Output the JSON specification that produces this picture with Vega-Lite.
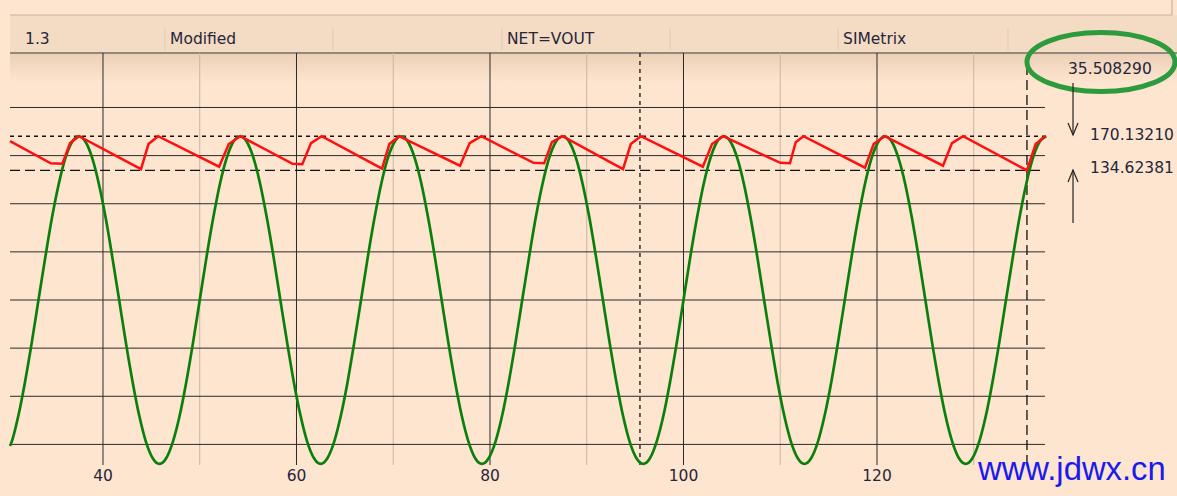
{
  "$schema": "https://vega.github.io/schema/vega-lite/v6.json",
  "width": 1177,
  "height": 496,
  "autosize": {"type": "none"},
  "padding": 0,
  "background": "#fee5cf",
  "config": {"view": {"stroke": null}, "axis": {"disable": true}},
  "data": {"values": [{}]},
  "datasets": {
    "green": [
      {"t":30.39,"v":-151.6},{"t":30.56,"v":-147.34},{"t":31.25,"v":-120.30},{"t":31.94,"v":-85.07},{"t":32.64,"v":-44.03},{"t":33.33,"v":0},{"t":34.03,"v":44.03},{"t":34.72,"v":85.07},{"t":35.42,"v":120.30},{"t":36.11,"v":147.34},{"t":36.81,"v":164.33},{"t":37.50,"v":170.13},{"t":38.19,"v":164.33},{"t":38.89,"v":147.34},{"t":39.58,"v":120.30},{"t":40.28,"v":85.07},{"t":40.97,"v":44.03},{"t":41.67,"v":0},{"t":42.36,"v":-44.03},{"t":43.06,"v":-85.07},{"t":43.75,"v":-120.30},{"t":44.44,"v":-147.34},{"t":45.14,"v":-164.33},{"t":45.83,"v":-170.13},
      {"t":46.53,"v":-164.33},{"t":47.22,"v":-147.34},{"t":47.92,"v":-120.30},{"t":48.61,"v":-85.07},{"t":49.31,"v":-44.03},{"t":50.00,"v":0},{"t":50.69,"v":44.03},{"t":51.39,"v":85.07},{"t":52.08,"v":120.30},{"t":52.78,"v":147.34},{"t":53.47,"v":164.33},{"t":54.17,"v":170.13},{"t":54.86,"v":164.33},{"t":55.56,"v":147.34},{"t":56.25,"v":120.30},{"t":56.94,"v":85.07},{"t":57.64,"v":44.03},{"t":58.33,"v":0},{"t":59.03,"v":-44.03},{"t":59.72,"v":-85.07},{"t":60.42,"v":-120.30},{"t":61.11,"v":-147.34},{"t":61.81,"v":-164.33},{"t":62.50,"v":-170.13},
      {"t":63.19,"v":-164.33},{"t":63.89,"v":-147.34},{"t":64.58,"v":-120.30},{"t":65.28,"v":-85.07},{"t":65.97,"v":-44.03},{"t":66.67,"v":0},{"t":67.36,"v":44.03},{"t":68.06,"v":85.07},{"t":68.75,"v":120.30},{"t":69.44,"v":147.34},{"t":70.14,"v":164.33},{"t":70.83,"v":170.13},{"t":71.53,"v":164.33},{"t":72.22,"v":147.34},{"t":72.92,"v":120.30},{"t":73.61,"v":85.07},{"t":74.31,"v":44.03},{"t":75.00,"v":0},{"t":75.69,"v":-44.03},{"t":76.39,"v":-85.07},{"t":77.08,"v":-120.30},{"t":77.78,"v":-147.34},{"t":78.47,"v":-164.33},{"t":79.17,"v":-170.13},
      {"t":79.86,"v":-164.33},{"t":80.56,"v":-147.34},{"t":81.25,"v":-120.30},{"t":81.94,"v":-85.07},{"t":82.64,"v":-44.03},{"t":83.33,"v":0},{"t":84.03,"v":44.03},{"t":84.72,"v":85.07},{"t":85.42,"v":120.30},{"t":86.11,"v":147.34},{"t":86.81,"v":164.33},{"t":87.50,"v":170.13},{"t":88.19,"v":164.33},{"t":88.89,"v":147.34},{"t":89.58,"v":120.30},{"t":90.28,"v":85.07},{"t":90.97,"v":44.03},{"t":91.67,"v":0},{"t":92.36,"v":-44.03},{"t":93.06,"v":-85.07},{"t":93.75,"v":-120.30},{"t":94.44,"v":-147.34},{"t":95.14,"v":-164.33},{"t":95.83,"v":-170.13},
      {"t":96.53,"v":-164.33},{"t":97.22,"v":-147.34},{"t":97.92,"v":-120.30},{"t":98.61,"v":-85.07},{"t":99.31,"v":-44.03},{"t":100.00,"v":0},{"t":100.69,"v":44.03},{"t":101.39,"v":85.07},{"t":102.08,"v":120.30},{"t":102.78,"v":147.34},{"t":103.47,"v":164.33},{"t":104.17,"v":170.13},{"t":104.86,"v":164.33},{"t":105.56,"v":147.34},{"t":106.25,"v":120.30},{"t":106.94,"v":85.07},{"t":107.64,"v":44.03},{"t":108.33,"v":0},{"t":109.03,"v":-44.03},{"t":109.72,"v":-85.07},{"t":110.42,"v":-120.30},{"t":111.11,"v":-147.34},{"t":111.81,"v":-164.33},{"t":112.50,"v":-170.13},
      {"t":113.19,"v":-164.33},{"t":113.89,"v":-147.34},{"t":114.58,"v":-120.30},{"t":115.28,"v":-85.07},{"t":115.97,"v":-44.03},{"t":116.67,"v":0},{"t":117.36,"v":44.03},{"t":118.06,"v":85.07},{"t":118.75,"v":120.30},{"t":119.44,"v":147.34},{"t":120.14,"v":164.33},{"t":120.83,"v":170.13},{"t":121.53,"v":164.33},{"t":122.22,"v":147.34},{"t":122.92,"v":120.30},{"t":123.61,"v":85.07},{"t":124.31,"v":44.03},{"t":125.00,"v":0},{"t":125.69,"v":-44.03},{"t":126.39,"v":-85.07},{"t":127.08,"v":-120.30},{"t":127.78,"v":-147.34},{"t":128.47,"v":-164.33},{"t":129.17,"v":-170.13},
      {"t":129.86,"v":-164.33},{"t":130.56,"v":-147.34},{"t":131.25,"v":-120.30},{"t":131.94,"v":-85.07},{"t":132.64,"v":-44.03},{"t":133.33,"v":0},{"t":134.03,"v":44.03},{"t":134.72,"v":85.07},{"t":135.42,"v":120.30},{"t":136.11,"v":147.34},{"t":136.81,"v":164.33},{"t":137.50,"v":170.13}
    ],
    "red": [
      {"t":30.39,"v":165},{"t":34.6,"v":142},{"t":35.8,"v":141.5},{"t":36.6,"v":163},{"t":37.52,"v":170.13},
      {"t":43.93,"v":136},{"t":44.7,"v":162},{"t":45.7,"v":170.13},
      {"t":52.0,"v":138.5},{"t":53.0,"v":162},{"t":54.2,"v":170.13},
      {"t":59.6,"v":141.5},{"t":60.6,"v":141},{"t":61.5,"v":163},{"t":62.6,"v":170.13},
      {"t":68.84,"v":136.5},{"t":69.6,"v":162},{"t":70.6,"v":170.13},
      {"t":76.9,"v":139.5},{"t":77.9,"v":163},{"t":79.1,"v":170.13},
      {"t":84.5,"v":142.5},{"t":85.6,"v":142},{"t":86.4,"v":164},{"t":87.5,"v":170.13},
      {"t":93.75,"v":136},{"t":94.55,"v":162},{"t":95.6,"v":170.13},
      {"t":102.0,"v":138.5},{"t":102.95,"v":162},{"t":104.1,"v":170.13},
      {"t":110.0,"v":142.5},{"t":111.0,"v":142},{"t":111.6,"v":164},{"t":112.4,"v":170.13},
      {"t":118.76,"v":137.5},{"t":119.65,"v":162},{"t":120.8,"v":170.13},
      {"t":126.82,"v":139.5},{"t":127.75,"v":163},{"t":128.9,"v":170.13},
      {"t":135.5,"v":134.62},{"t":136.4,"v":162},{"t":137.4,"v":170.13}
    ],
    "major": [{"t":40},{"t":60},{"t":80},{"t":100},{"t":120}],
    "minor": [{"t":50},{"t":70},{"t":90},{"t":110},{"t":130}],
    "hgrid": [{"v":-150},{"v":-100},{"v":-50},{"v":0},{"v":50},{"v":100},{"v":150},{"v":200}],
    "seps": [{"t":46.41},{"t":63.77},{"t":81.24},{"t":98.61},{"t":115.97},{"t":133.54}]
  },
  "layer": [
    {"mark": {"type": "rect", "color": "#f4dbc4"},
     "encoding": {
       "x": {"datum": 30.39, "type": "quantitative", "scale": {"domain": [29.354, 151.008], "nice": false, "zero": false}, "axis": null},
       "x2": {"datum": 151.0},
       "y": {"datum": 296.07, "type": "quantitative", "scale": {"domain": [-203.6, 311.65], "nice": false, "zero": false}, "axis": null},
       "y2": {"datum": 256.6}}},
    {"mark": {"type": "rect", "color": {"gradient": "linear", "x1": 0, "y1": 0, "x2": 0, "y2": 1, "stops": [{"offset": 0, "color": "#ebd0b7"}, {"offset": 1, "color": "#fee5cf"}]}},
     "encoding": {"x": {"datum": 30.39}, "x2": {"datum": 151.0}, "y": {"datum": 256.6}, "y2": {"datum": 226.0}}},
    {"mark": {"type": "rule", "color": "#c4b3a3", "strokeWidth": 1.2},
     "encoding": {"x": {"datum": 30.39}, "x2": {"datum": 150.49}, "y": {"datum": 296.07}}},
    {"mark": {"type": "rule", "color": "#c4b3a3", "strokeWidth": 1.2},
     "encoding": {"x": {"datum": 150.49}, "y": {"datum": 296.07}, "y2": {"datum": 311.65}}},
    {"data": {"name": "seps"},
     "mark": {"type": "rule", "color": "#e2c9b1", "strokeWidth": 1},
     "encoding": {"x": {"field": "t", "type": "quantitative"}, "y": {"datum": 282.6}, "y2": {"datum": 259.7}}},
    {"mark": {"type": "rule", "color": "#3a3a3a", "strokeWidth": 1},
     "encoding": {"x": {"datum": 30.39}, "x2": {"datum": 151.0}, "y": {"datum": 256.6}}},
    {"data": {"name": "minor"},
     "mark": {"type": "rule", "color": "#c9b5a2", "strokeWidth": 1},
     "encoding": {"x": {"field": "t", "type": "quantitative"}, "y": {"datum": 256.6}, "y2": {"datum": -171.4}}},
    {"data": {"name": "major"},
     "mark": {"type": "rule", "color": "#2a2a2a", "strokeWidth": 1},
     "encoding": {"x": {"field": "t", "type": "quantitative"}, "y": {"datum": 256.6}, "y2": {"datum": -171.4}}},
    {"data": {"name": "hgrid"},
     "mark": {"type": "rule", "color": "#2a2a2a", "strokeWidth": 1},
     "encoding": {"y": {"field": "v", "type": "quantitative"}, "x": {"datum": 30.39}, "x2": {"datum": 137.36}}},
    {"mark": {"type": "rule", "color": "#111111", "strokeWidth": 1.3, "strokeDash": [4, 4]},
     "encoding": {"y": {"datum": 170.13}, "x": {"datum": 30.39}, "x2": {"datum": 137.36}}},
    {"mark": {"type": "rule", "color": "#111111", "strokeWidth": 1.3, "strokeDash": [10, 5]},
     "encoding": {"y": {"datum": 134.62}, "x": {"datum": 30.39}, "x2": {"datum": 137.36}}},
    {"mark": {"type": "rule", "color": "#111111", "strokeWidth": 1.3, "strokeDash": [4, 4]},
     "encoding": {"x": {"datum": 95.5}, "y": {"datum": 256.6}, "y2": {"datum": -171.4}}},
    {"mark": {"type": "rule", "color": "#111111", "strokeWidth": 1.3, "strokeDash": [10, 5]},
     "encoding": {"x": {"datum": 135.5}, "y": {"datum": 244.1}, "y2": {"datum": -171.4}}},
    {"data": {"name": "green"},
     "mark": {"type": "line", "color": "#0a800a", "strokeWidth": 2.7, "interpolate": "monotone"},
     "encoding": {"x": {"field": "t", "type": "quantitative"}, "y": {"field": "v", "type": "quantitative"}, "order": {"field": "t"}}},
    {"data": {"name": "red"},
     "mark": {"type": "line", "color": "#ff1010", "strokeWidth": 2.5},
     "encoding": {"x": {"field": "t", "type": "quantitative"}, "y": {"field": "v", "type": "quantitative"}, "order": {"field": "t"}}},
    {"data": {"name": "major"},
     "mark": {"type": "text", "font": "DejaVu Sans", "fontSize": 15.5, "color": "#26263a", "align": "center", "baseline": "middle"},
     "encoding": {"x": {"field": "t", "type": "quantitative"}, "y": {"datum": -182.8}, "text": {"field": "t", "type": "quantitative"}}},
    {"mark": {"type": "text", "font": "DejaVu Sans", "fontSize": 15.5, "color": "#26263a", "align": "left", "baseline": "middle"},
     "encoding": {"x": {"datum": 31.94}, "y": {"datum": 271.1}, "text": {"value": "1.3"}}},
    {"mark": {"type": "text", "font": "DejaVu Sans", "fontSize": 15.5, "color": "#26263a", "align": "left", "baseline": "middle"},
     "encoding": {"x": {"datum": 46.93}, "y": {"datum": 271.1}, "text": {"value": "Modified"}}},
    {"mark": {"type": "text", "font": "DejaVu Sans", "fontSize": 15.5, "color": "#26263a", "align": "left", "baseline": "middle"},
     "encoding": {"x": {"datum": 81.76}, "y": {"datum": 271.1}, "text": {"value": "NET=VOUT"}}},
    {"mark": {"type": "text", "font": "DejaVu Sans", "fontSize": 15.5, "color": "#26263a", "align": "left", "baseline": "middle"},
     "encoding": {"x": {"datum": 116.49}, "y": {"datum": 271.1}, "text": {"value": "SIMetrix"}}},
    {"mark": {"type": "text", "font": "DejaVu Sans", "fontSize": 15.5, "color": "#26263a", "align": "left", "baseline": "middle"},
     "encoding": {"x": {"datum": 139.74}, "y": {"datum": 239.5}, "text": {"value": "35.508290"}}},
    {"mark": {"type": "text", "font": "DejaVu Sans", "fontSize": 15.5, "color": "#26263a", "align": "left", "baseline": "middle"},
     "encoding": {"x": {"datum": 142.02}, "y": {"datum": 171.4}, "text": {"value": "170.13210"}}},
    {"mark": {"type": "text", "font": "DejaVu Sans", "fontSize": 15.5, "color": "#26263a", "align": "left", "baseline": "middle"},
     "encoding": {"x": {"datum": 142.02}, "y": {"datum": 136.8}, "text": {"value": "134.62381"}}},
    {"mark": {"type": "point", "shape": "M-1,0A1,0.4 0 1,1 1,0A1,0.4 0 1,1 -1,0Z", "filled": false, "size": 21904, "stroke": "#2e9a3e", "strokeWidth": 5, "opacity": 1},
     "encoding": {"x": {"datum": 143.15}, "y": {"datum": 247.25}}},
    {"mark": {"type": "rule", "color": "#222222", "strokeWidth": 1.2},
     "encoding": {"x": {"datum": 140.26}, "y": {"datum": 225.4}, "y2": {"datum": 171.4}}},
    {"mark": {"type": "rule", "color": "#222222", "strokeWidth": 1.2},
     "encoding": {"x": {"datum": 140.26}, "y": {"datum": 135.05}, "y2": {"datum": 80.0}}},
    {"mark": {"type": "point", "shape": "M-1,-1.2L0,1.2L1,-1.2", "filled": false, "size": 100, "stroke": "#222222", "strokeWidth": 1.2, "opacity": 1},
     "encoding": {"x": {"datum": 140.26}, "y": {"datum": 177.6}}},
    {"mark": {"type": "point", "shape": "M-1,1.2L0,-1.2L1,1.2", "filled": false, "size": 100, "stroke": "#222222", "strokeWidth": 1.2, "opacity": 1},
     "encoding": {"x": {"datum": 140.26}, "y": {"datum": 128.8}}},
    {"mark": {"type": "text", "font": "Liberation Sans", "fontSize": 32.8, "color": "#1a1af0", "align": "left", "baseline": "alphabetic"},
     "encoding": {"x": {"datum": 130.44}, "y": {"datum": -187.0}, "text": {"value": "www.jdwx.cn"}}}
  ]
}
